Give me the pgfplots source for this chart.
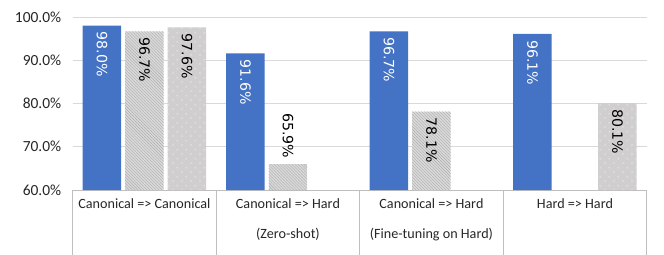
\documentclass[border=0pt]{standalone}
\usepackage{fontspec}
\setmainfont{Carlito}
\newfontfamily\dejavu{DejaVu Sans}
\usepackage{pgfplots}
\pgfplotsset{compat=1.18}
\usetikzlibrary{patterns,patterns.meta}

\definecolor{barblue}{HTML}{4472C4}
\definecolor{hatchbg}{HTML}{D9D9D9}
\definecolor{hatchfg}{HTML}{ADADAD}
\definecolor{dotbg}{HTML}{D0CECE}
\definecolor{gridgray}{HTML}{D9D9D9}
\definecolor{linegray}{HTML}{BFBFBF}
\definecolor{txt}{HTML}{262626}

\tikzdeclarepattern{
  name=wdots,
  type=uncolored,
  bottom left={(0bp,0bp)},
  top right={(9bp,9bp)},
  tile size={(9bp,9bp)},
  code={
    \fill (2.25bp,2.25bp) circle (0.65bp);
    \fill (6.75bp,6.75bp) circle (0.65bp);
  }
}

\pgfplotsset{
  valfmt/.style={
    nodes near coords={\pgfmathprintnumber[fixed,fixed zerofill,precision=1]{\pgfplotspointmeta}\%},
  },
}

\begin{document}
\begin{tikzpicture}
\begin{axis}[
  at={(0,0)}, anchor=south west,
  scale only axis, width=574bp, height=173bp,
  xmin=0, xmax=4, ymin=60, ymax=100,
  clip=false,
  ybar, bar width=38.5bp,
  axis x line*=bottom, axis y line*=left,
  x axis line style={color=linegray, line width=0.8bp},
  y axis line style={draw=none},
  ytick={60,70,80,90,100},
  ymajorgrids, grid style={color=gridgray, line width=0.8bp},
  major tick length=0pt,
  ytick style={draw=none}, xtick style={draw=none},
  /pgf/number format/assume math mode=true,
  yticklabel={\pgfmathprintnumber[fixed,fixed zerofill,precision=1]{\tick}\%},
  yticklabel style={font=\fontsize{15.5}{18}\selectfont, text=txt, xshift=-8bp},
  xtick={0.5,1.5,2.5,3.5},
  xticklabels={{Canonical => Canonical},{Canonical => Hard\\(Zero-shot)},{Canonical => Hard\\(Fine-tuning on Hard)},{Hard => Hard}},
  xticklabel style={font=\fontsize{14.2}{30}\selectfont, text=txt, align=center, anchor=north, yshift=-5bp},
  every node near coord/.append style={font=\dejavu\fontsize{14.2}{16}\selectfont, rotate=-90, anchor=west, inner sep=6bp},
]
% blue series
\addplot[draw=none, fill=barblue, bar shift=-42.5bp, valfmt,
  every node near coord/.append style={text=white}]
  coordinates {(0.5,98.0) (1.5,91.6) (2.5,96.7) (3.5,96.1)};
% hatched series (labels inside)
\addplot[draw=none, fill=hatchbg, postaction={pattern=north west lines, pattern color=hatchfg}, bar shift=0bp, valfmt,
  every node near coord/.append style={text=black}]
  coordinates {(0.5,96.7) (2.5,78.1)};
% hatched series (label outside)
\addplot[draw=none, fill=hatchbg, postaction={pattern=north west lines, pattern color=hatchfg}, bar shift=0bp, valfmt,
  every node near coord/.append style={text=black, anchor=east}]
  coordinates {(1.5,65.9)};
% dotted series
\addplot[draw=none, fill=dotbg, postaction={pattern=wdots, pattern color=white}, bar shift=42.5bp, valfmt,
  every node near coord/.append style={text=black}]
  coordinates {(0.5,97.6) (3.5,80.1)};
% category separators
\pgfplotsinvokeforeach{0,1,2,3,4}{
  \draw[linegray, line width=0.8bp] (axis cs:#1,60) -- ++(0,-56bp);
}
\end{axis}
\pgfresetboundingbox
\path (-72.7bp,-65bp) rectangle (591.3bp,190bp);
\end{tikzpicture}
\end{document}
